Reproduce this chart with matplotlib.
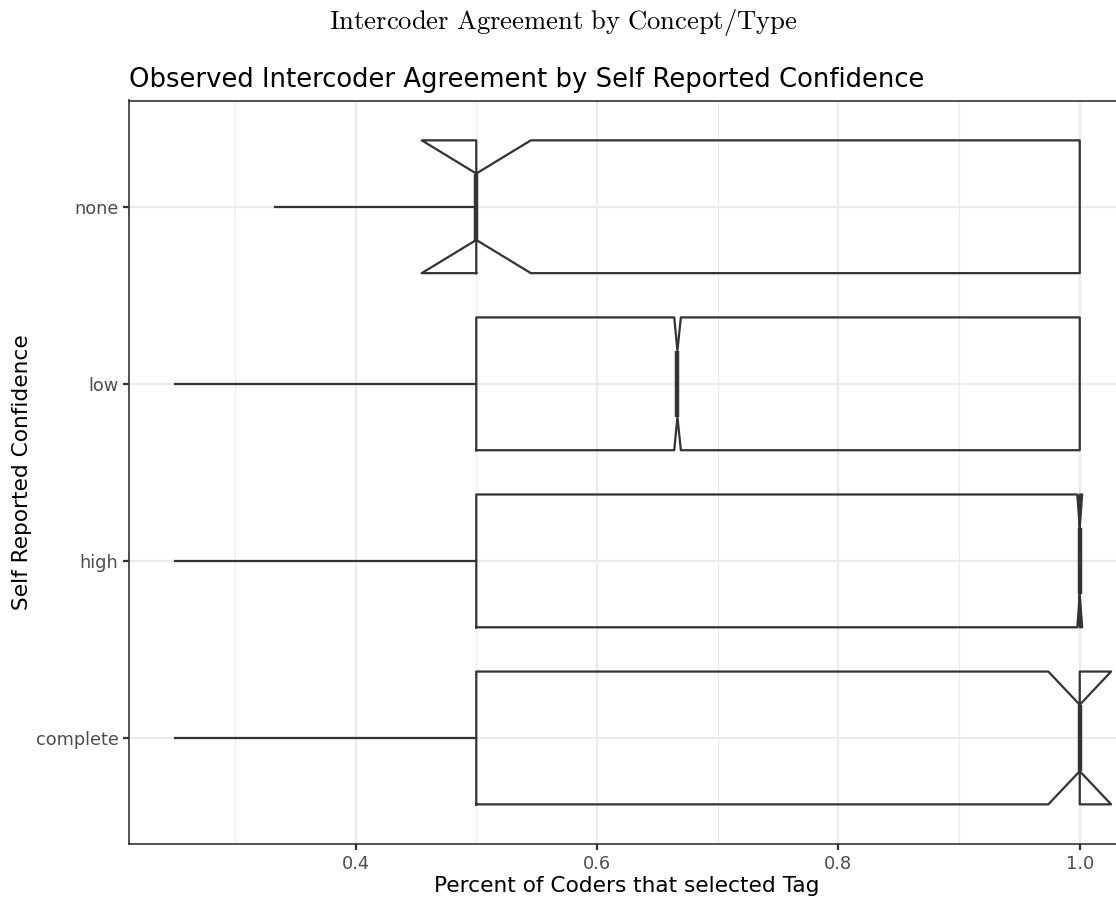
import matplotlib
matplotlib.use("Agg")
import matplotlib.pyplot as plt
from matplotlib.ticker import MultipleLocator

# ---- data ----
categories = ["complete", "high", "low", "none"]
whisker_low = [0.25, 0.25, 0.25, 1/3]
q1 = [0.5, 0.5, 0.5, 0.5]
median = [1.0, 1.0, 2/3, 0.5]
q3 = [1.0, 1.0, 1.0, 1.0]
whisker_high = [1.0, 1.0, 1.0, 1.0]
notch_low = [0.974, 0.998, 0.664, 0.4548]
notch_high = [1.026, 1.002, 0.6695, 0.5452]
x_ticks = [0.4, 0.6, 0.8, 1.0]
x_tick_labels = ["0.4", "0.6", "0.8", "1.0"]

W, H, DPI = 1116, 901, 150
fig = plt.figure(figsize=(W / DPI, H / DPI), dpi=DPI)
fig.patch.set_facecolor("white")

left, right, top, bottom = 129.3, 1125.0, 100.5, 844.2
ax = fig.add_axes([left / W, 1 - bottom / H, (right - left) / W, (bottom - top) / H])

stats = []
for i, c in enumerate(categories):
    stats.append(dict(label=c, whislo=whisker_low[i], q1=q1[i], med=median[i],
                      q3=q3[i], whishi=whisker_high[i], cilo=notch_low[i],
                      cihi=notch_high[i], fliers=[]))

line_c = "#333333"
lw = 1.07
ax.bxp(stats, positions=range(1, len(categories) + 1), widths=0.75,
       orientation="horizontal", shownotches=True, showcaps=False,
       showfliers=False, patch_artist=False,
       boxprops=dict(color=line_c, linewidth=lw),
       whiskerprops=dict(color=line_c, linewidth=lw),
       medianprops=dict(color=line_c, linewidth=2 * lw, solid_capstyle="butt"),
       zorder=3)

ax.set_xlim(0.2125, 1.0375)
ax.set_ylim(0.4, len(categories) + 0.6)
ax.set_yticks(range(1, len(categories) + 1))
ax.set_yticklabels(categories)
ax.xaxis.set_minor_locator(MultipleLocator(0.1))
ax.set_xticks(x_ticks)
ax.set_xticklabels(x_tick_labels)

ax.grid(True, which="major", color="#ebebeb", linewidth=1.07, zorder=0)
ax.grid(True, which="minor", axis="x", color="#ebebeb", linewidth=0.53, zorder=0)
ax.set_axisbelow(True)
ax.tick_params(axis="both", which="major", length=2.75, width=1.07, color=line_c,
               labelcolor="#4d4d4d", labelsize=8.5, pad=2.4)
ax.tick_params(axis="x", which="minor", length=0)
for s in ax.spines.values():
    s.set_color(line_c)
    s.set_linewidth(0.8)

ax.set_xlabel("Percent of Coders that selected Tag", fontsize=10.4, color="black")
ax.xaxis.set_label_coords(0.5, (bottom - 876) / (bottom - top))
ax.set_ylabel("Self Reported Confidence", fontsize=10.4, color="black")
ax.yaxis.set_label_coords((32 - left) / (right - left), 0.5)
ax.set_title("Observed Intercoder Agreement by Self Reported Confidence",
             fontsize=12.4, loc="left", color="black", pad=6.5)

plt.rcParams["mathtext.fontset"] = "cm"
fig.text(563.5 / W, 1 - 23 / H, r"$\mathrm{Intercoder\ Agreement\ by\ Concept/Type}$",
         ha="center", va="center", fontsize=12.8, color="black")

fig.savefig("out.png", dpi=DPI, facecolor="white")
